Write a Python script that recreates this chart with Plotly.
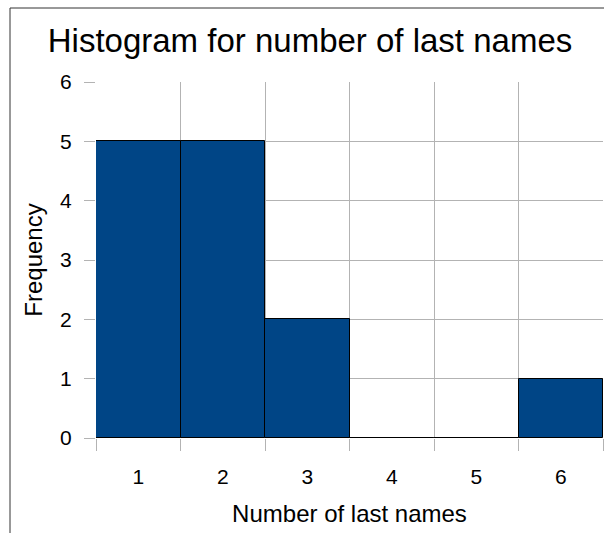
import plotly.graph_objects as go

categories = [1, 2, 3, 4, 5, 6]
frequencies = [5, 5, 2, 0, 0, 1]
tick_labels = ["1", "2", "3", "4", "5", "6"]
y_ticks = [0, 1, 2, 3, 4, 5, 6]

W, H = 604, 533
L, R, T, B = 96, 1, 82, 95

fig = go.Figure()
fig.add_trace(go.Bar(
    x=categories, y=frequencies, width=1,
    marker=dict(color="#004586", line=dict(color="#000000", width=1)),
    showlegend=False,
))
fig.add_trace(go.Scatter(x=categories, y=[None]*6, xaxis="x2", showlegend=False,
                         hoverinfo="skip"))

boundaries = [c - 0.5 for c in categories] + [categories[-1] + 0.5]
font = "Liberation Sans, Arial, sans-serif"
grid = "#b3b3b3"

fig.update_layout(
    width=W, height=H,
    margin=dict(l=L, r=R, t=T, b=B, pad=0),
    paper_bgcolor="white", plot_bgcolor="white",
    font=dict(family=font, color="#000000"),
    title=dict(text="Histogram for number of last names", x=310 / W, xref="container",
               xanchor="center", y=1 - 40 / H, yanchor="middle",
               font=dict(size=33, color="#000000")),
    bargap=0,
    xaxis=dict(range=[0.5, 6.5], tickvals=boundaries, showticklabels=False,
               ticks="outside", ticklen=12, tickcolor=grid, showgrid=True,
               gridcolor=grid, gridwidth=1, zeroline=False, showline=False),
    xaxis2=dict(range=[0.5, 6.5], overlaying="x", side="bottom", tickvals=categories,
                ticktext=tick_labels, showgrid=False, ticks="", zeroline=False,
                showline=False, tickfont=dict(size=21), ticklabelstandoff=24,
                title=dict(text="Number of last names", font=dict(size=24), standoff=18)),
    yaxis=dict(range=[0, 6], tickvals=y_ticks, ticks="outside", ticklen=11,
               tickcolor=grid, showgrid=True, gridcolor=grid, zeroline=False,
               showline=False, tickfont=dict(size=21), ticklabelstandoff=8,
               title=dict(text="Frequency", font=dict(size=24), standoff=10)),
)

pw = W - L - R
ph = H - T - B
x0 = (10 - L) / pw
x1 = (W + 2 - L) / pw
y_top = (H - B - 8) / ph
y_bot = -(B + 2) / ph
fig.add_shape(type="line", xref="paper", yref="paper", x0=x0, x1=x1, y0=y_top, y1=y_top,
              line=dict(color="#333333", width=1))
fig.add_shape(type="line", xref="paper", yref="paper", x0=x0, x1=x0, y0=y_top, y1=y_bot,
              line=dict(color="#333333", width=1))

fig.write_html("out.html", config={"displayModeBar": False},
               post_script="document.body.style.margin='0';")
